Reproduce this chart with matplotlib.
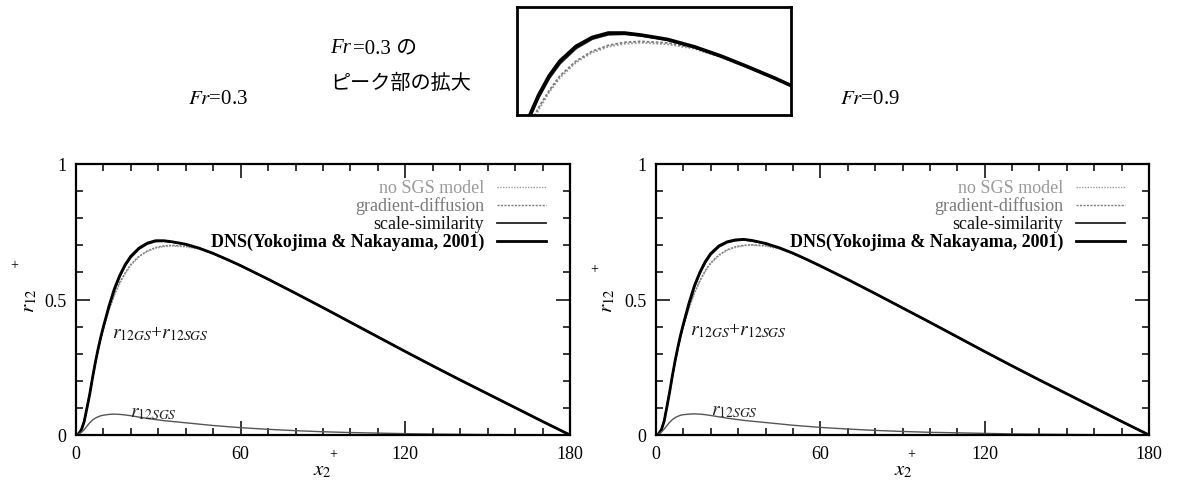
import matplotlib
matplotlib.use("Agg")
import matplotlib.pyplot as plt
from matplotlib.ticker import MultipleLocator, FixedLocator

plt.rcParams['font.family'] = ['Liberation Serif', 'Noto Sans CJK JP', 'DejaVu Sans']
plt.rcParams['mathtext.fontset'] = 'stix'

# ---------------- data ----------------
x2 = [0, 1, 2, 3, 4, 5, 6, 7, 8, 9, 10, 12, 14, 16, 18, 20, 23, 26, 29, 32, 35, 40,
      45, 50, 55, 60, 70, 80, 90, 100, 110, 120, 130, 140, 150, 160, 170, 175, 180]

dns_03 = [0, 0.005, 0.02, 0.05, 0.10, 0.15, 0.21, 0.265, 0.315, 0.36, 0.40, 0.475, 0.54, 0.59,
          0.63, 0.66, 0.69, 0.708, 0.717, 0.717, 0.713, 0.704, 0.689, 0.67, 0.648, 0.625, 0.575,
          0.523, 0.47, 0.416, 0.362, 0.308, 0.255, 0.203, 0.152, 0.101, 0.05, 0.025, 0]
ss_03 = [0, 0.005, 0.021, 0.052, 0.10, 0.152, 0.21, 0.265, 0.315, 0.358, 0.398, 0.472, 0.535,
         0.585, 0.625, 0.655, 0.686, 0.705, 0.714, 0.715, 0.712, 0.703, 0.688, 0.67, 0.648, 0.625,
         0.575, 0.523, 0.47, 0.416, 0.362, 0.308, 0.255, 0.203, 0.152, 0.101, 0.05, 0.025, 0]
gd_03 = [0, 0.005, 0.021, 0.052, 0.10, 0.152, 0.212, 0.267, 0.315, 0.358, 0.395, 0.462, 0.52,
         0.565, 0.60, 0.63, 0.66, 0.68, 0.692, 0.698, 0.70, 0.697, 0.687, 0.668, 0.647, 0.624,
         0.575, 0.523, 0.47, 0.416, 0.362, 0.308, 0.255, 0.203, 0.152, 0.101, 0.05, 0.025, 0]
ns_03 = [0, 0.005, 0.02, 0.05, 0.098, 0.15, 0.21, 0.265, 0.312, 0.355, 0.392, 0.458, 0.515,
         0.56, 0.596, 0.626, 0.657, 0.677, 0.689, 0.695, 0.697, 0.694, 0.685, 0.667, 0.646, 0.623,
         0.574, 0.522, 0.469, 0.415, 0.361, 0.307, 0.254, 0.202, 0.151, 0.10, 0.05, 0.025, 0]
sgs_03 = [0, 0.004, 0.01, 0.02, 0.033, 0.045, 0.055, 0.062, 0.067, 0.071, 0.073, 0.076, 0.077,
          0.076, 0.074, 0.071, 0.066, 0.061, 0.057, 0.053, 0.05, 0.045, 0.04, 0.035, 0.031, 0.027,
          0.021, 0.016, 0.012, 0.009, 0.007, 0.005, 0.0035, 0.0025, 0.0015, 0.001, 0.0005, 0.0002, 0]

dns_09 = [0, 0.005, 0.02, 0.052, 0.105, 0.16, 0.22, 0.275, 0.325, 0.37, 0.41, 0.485, 0.55, 0.60,
          0.64, 0.67, 0.698, 0.713, 0.72, 0.722, 0.718, 0.707, 0.691, 0.671, 0.648, 0.624, 0.574,
          0.522, 0.469, 0.416, 0.362, 0.308, 0.255, 0.203, 0.152, 0.101, 0.05, 0.025, 0]
ss_09 = [0, 0.005, 0.021, 0.053, 0.105, 0.16, 0.219, 0.273, 0.322, 0.367, 0.406, 0.48, 0.545,
         0.595, 0.635, 0.665, 0.694, 0.71, 0.717, 0.72, 0.716, 0.706, 0.69, 0.67, 0.648, 0.624,
         0.574, 0.522, 0.469, 0.416, 0.362, 0.308, 0.255, 0.203, 0.152, 0.101, 0.05, 0.025, 0]
gd_09 = [0, 0.005, 0.021, 0.053, 0.105, 0.16, 0.22, 0.275, 0.322, 0.365, 0.40, 0.468, 0.525,
         0.57, 0.607, 0.636, 0.665, 0.684, 0.695, 0.70, 0.702, 0.699, 0.688, 0.669, 0.647, 0.623,
         0.574, 0.522, 0.469, 0.416, 0.362, 0.308, 0.255, 0.203, 0.152, 0.101, 0.05, 0.025, 0]
ns_09 = [0, 0.005, 0.02, 0.052, 0.103, 0.158, 0.218, 0.272, 0.319, 0.362, 0.397, 0.464, 0.52,
         0.566, 0.603, 0.632, 0.662, 0.681, 0.692, 0.698, 0.70, 0.697, 0.686, 0.668, 0.646, 0.622,
         0.573, 0.521, 0.468, 0.415, 0.361, 0.307, 0.254, 0.202, 0.151, 0.10, 0.05, 0.025, 0]
sgs_09 = [0, 0.004, 0.011, 0.022, 0.035, 0.047, 0.057, 0.064, 0.069, 0.073, 0.075, 0.077, 0.078,
          0.077, 0.075, 0.072, 0.067, 0.062, 0.058, 0.054, 0.051, 0.046, 0.041, 0.036, 0.032, 0.028,
          0.022, 0.017, 0.013, 0.01, 0.008, 0.006, 0.004, 0.003, 0.002, 0.0012, 0.0006, 0.0003, 0]

legend_labels = ["no SGS model", "gradient-diffusion", "scale-similarity",
                 "DNS(Yokojima & Nakayama, 2001)"]
x_ticks = [0, 60, 120, 180]
y_ticks = [0, 0.5, 1]
y_tick_labels = ["0", "0.5", "1"]

# ---------------- styles ----------------
styles = [
    dict(color='#9a9a9a', lw=1.0, ls=(0, (1, 1))),        # no SGS
    dict(color='#7a7a7a', lw=1.0, ls=(0, (1.5, 1))),      # gradient-diffusion
    dict(color='#222222', lw=1.3, ls='-'),               # scale-similarity
    dict(color='#000000', lw=2.0, ls='-'),               # DNS
]
text_styles = [
    dict(color='#9a9a9a', fontweight='normal'),
    dict(color='#7a7a7a', fontweight='normal'),
    dict(color='#111111', fontweight='normal'),
    dict(color='#000000', fontweight='bold'),
]

W, H = 1177, 481
fig = plt.figure(figsize=(W / 100, H / 100), dpi=100)


def px(x0, y0, x1, y1):
    return [x0 / W, 1 - y1 / H, (x1 - x0) / W, (y1 - y0) / H]


def make_panel(rect, series, sgs, ylab_pos, plus_y_pos, xlab_pos, plus_x_pos,
               gs_lab, sgs_lab):
    ax = fig.add_axes(rect)
    ns, gd, ss, dns = series
    for data, st in zip([ns, gd, ss, dns], styles):
        ax.plot(x2, data, **st, solid_capstyle='round')
    ax.plot(x2, sgs, color='#555555', lw=1.0, ls='-')
    ax.set_xlim(0, 180)
    ax.set_ylim(0, 1)
    ax.xaxis.set_major_locator(FixedLocator(x_ticks))
    ax.xaxis.set_minor_locator(MultipleLocator(10))
    ax.yaxis.set_major_locator(FixedLocator(y_ticks))
    ax.yaxis.set_minor_locator(MultipleLocator(0.1))
    ax.set_yticklabels(y_tick_labels)
    ax.tick_params(which='both', direction='in', top=True, right=True,
                   labelsize=13, width=1.1, colors='black')
    ax.tick_params(which='major', length=10, pad=7)
    ax.tick_params(which='minor', length=5)
    for sp in ax.spines.values():
        sp.set_linewidth(1.6)
    # legend (manual, right aligned text)
    rows = [0.915, 0.849, 0.782, 0.716]
    for lab, yy, st, ts in zip(legend_labels, rows, styles, text_styles):
        ax.text(0.826, yy, lab, transform=ax.transAxes, ha='right', va='center',
                fontsize=13, **ts)
        ax.plot([0.852, 0.952], [yy, yy], transform=ax.transAxes, **st)
    # curve annotations
    ax.text(gs_lab[0], gs_lab[1], r'$r_{12GS}$+$r_{12SGS}$', fontsize=14, color='#111111')
    ax.text(sgs_lab[0], sgs_lab[1], r'$r_{12SGS}$', fontsize=14, color='#222222')
    # axis labels
    fig.text(ylab_pos[0] / W, 1 - ylab_pos[1] / H, r'$r_{12}$', rotation=90,
             ha='center', va='center', fontsize=15)
    fig.text(plus_y_pos[0] / W, 1 - plus_y_pos[1] / H, '+', ha='center', va='center',
             fontsize=10)
    fig.text(xlab_pos[0] / W, 1 - xlab_pos[1] / H, r'$x_2$', ha='center', va='center',
             fontsize=15)
    fig.text(plus_x_pos[0] / W, 1 - plus_x_pos[1] / H, '+', ha='center', va='center',
             fontsize=10)
    return ax


make_panel(px(76, 165, 570, 436), [ns_03, gd_03, ss_03, dns_03], sgs_03,
           (30, 301), (14, 266), (322, 471), (333, 455), (13.0, 0.36), (19.5, 0.07))
make_panel(px(656, 165, 1149, 436), [ns_09, gd_09, ss_09, dns_09], sgs_09,
           (608, 301), (594, 270), (903, 471), (911, 455), (12.5, 0.37), (20.0, 0.075))

# inset: magnified peak of Fr=0.3
axi = fig.add_axes(px(517, 8, 791, 116))
for data, st in zip([ns_03, gd_03, ss_03, dns_03], styles):
    s = dict(st)
    s['lw'] = s['lw'] * 1.3
    axi.plot(x2, data, **s)
axi.set_xlim(12, 63)
axi.set_ylim(0.55, 0.77)
axi.set_xticks([])
axi.set_yticks([])
for sp in axi.spines.values():
    sp.set_linewidth(2.0)

# titles / notes
fig.text(188 / W, 1 - 100 / H, r'$Fr$=0.3', ha='left', va='center', fontsize=15)
fig.text(840 / W, 1 - 100 / H, r'$Fr$=0.9', ha='left', va='center', fontsize=15)
fig.text(330 / W, 1 - 49 / H, 'Fr', ha='left', va='center', fontsize=15, style='italic',
         family=['Liberation Serif'])
fig.text(353 / W, 1 - 49 / H, '=0.3 の', ha='left', va='center', fontsize=15,
         family=['Liberation Serif', 'Noto Sans CJK JP'])
fig.text(330 / W, 1 - 83 / H, 'ピーク部の拡大', ha='left', va='center', fontsize=14.5,
         family=['Noto Sans CJK JP', 'Liberation Serif'])

fig.savefig('out.png', dpi=100)
